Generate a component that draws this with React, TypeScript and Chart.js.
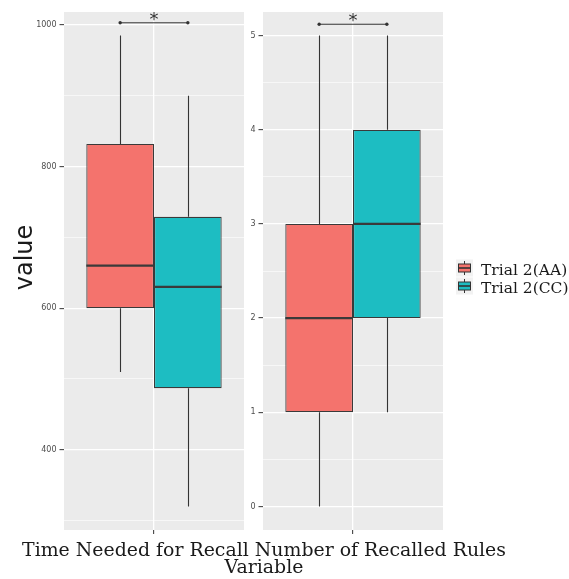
import React, { useEffect, useRef } from 'react';
import { Chart, registerables } from 'chart.js';
Chart.register(...registerables);

// ---------- data ----------
const groupNames = ['Trial 2(AA)', 'Trial 2(CC)'];
const groupFills = ['#F4736D', '#1DBDC2'];
const panelNames = ['Time Needed for Recall', 'Number of Recalled Rules'];
const xTitleSecondLine = 'Variable';
const yTitle = 'value';

// five-number summaries: [lower whisker, Q1, median, Q3, upper whisker]
const timeAA = [510, 600, 660, 832, 985];
const timeCC = [320, 487, 630, 729, 900];
const rulesAA = [0, 1, 2, 3, 5];
const rulesCC = [1, 2, 3, 4, 5];

const timeTicks = [400, 600, 800, 1000];
const rulesTicks = [0, 1, 2, 3, 4, 5];

const timeSignifY = 1003;
const rulesSignifY = 5.12;
const signifLabel = '*';

// ---------- layout ----------
const W = 569;
const H = 579;
const PANEL_TOP = 12;
const PANEL_BOTTOM = 530;
const panelBoxes = [
  { left: 64, right: 244, axisWidth: 64 },
  { left: 263, right: 443, axisWidth: 19 },
];
const BOX_GROUP_FRACTION = 0.752;
const INK = '#333333';
const TEXT = '#1a1a1a';

function buildChart(
  canvas: HTMLCanvasElement,
  idx: number,
  summaries: number[][],
  majors: number[],
  signifY: number,
  extra: (chart: any) => void
) {
  const L = panelBoxes[idx];
  const lo = Math.min(...summaries.map((s) => s[0]));
  const hi = Math.max(...summaries.map((s) => s[4]));
  const pad = (hi - lo) * 0.05;
  const yMin = lo - pad;
  const yMax = hi + pad;
  const step = majors[1] - majors[0];
  const allTicks: number[] = [];
  for (let k = -1; k <= (majors.length - 1) * 2 + 1; k++) {
    const v = Math.round((majors[0] + (k * step) / 2) * 1e6) / 1e6;
    if (v >= yMin && v <= yMax) allTicks.push(v);
  }
  const isMajor = (v: any) => typeof v === 'number' && majors.some((m) => Math.abs(m - v) < 1e-6);

  const plugin = {
    id: 'boxplot' + idx,
    beforeDraw(chart: any) {
      const { ctx, chartArea: ca } = chart;
      ctx.save();
      ctx.fillStyle = '#EBEBEB';
      ctx.fillRect(ca.left, ca.top, ca.right - ca.left, ca.bottom - ca.top);
      ctx.restore();
    },
    beforeDatasetsDraw(chart: any) {
      const { ctx } = chart;
      const ys = chart.scales.y;
      ctx.save();
      ctx.strokeStyle = INK;
      ctx.lineWidth = 1.1;
      summaries.forEach((s, i) => {
        const bar = chart.getDatasetMeta(i).data[0];
        const x = Math.round(bar.x) + 0.5;
        ctx.beginPath();
        ctx.moveTo(x, ys.getPixelForValue(s[0]));
        ctx.lineTo(x, ys.getPixelForValue(s[1]));
        ctx.moveTo(x, ys.getPixelForValue(s[3]));
        ctx.lineTo(x, ys.getPixelForValue(s[4]));
        ctx.stroke();
      });
      ctx.restore();
    },
    afterDatasetsDraw(chart: any) {
      const { ctx } = chart;
      const ys = chart.scales.y;
      ctx.save();
      ctx.strokeStyle = '#3a3a3a';
      ctx.lineWidth = 2.2;
      const centers: number[] = [];
      summaries.forEach((s, i) => {
        const bar = chart.getDatasetMeta(i).data[0];
        centers.push(bar.x);
        const y = ys.getPixelForValue(s[2]);
        ctx.beginPath();
        ctx.moveTo(bar.x - bar.width / 2, y);
        ctx.lineTo(bar.x + bar.width / 2, y);
        ctx.stroke();
      });
      // significance bracket
      const sy = ys.getPixelForValue(signifY);
      ctx.strokeStyle = INK;
      ctx.lineWidth = 1;
      ctx.beginPath();
      ctx.moveTo(centers[0], sy);
      ctx.lineTo(centers[1], sy);
      ctx.stroke();
      ctx.fillStyle = INK;
      centers.forEach((cx) => {
        ctx.beginPath();
        ctx.arc(cx, sy, 1.7, 0, Math.PI * 2);
        ctx.fill();
      });
      ctx.font = '18px "DejaVu Sans"';
      ctx.textAlign = 'center';
      ctx.textBaseline = 'alphabetic';
      ctx.fillText(signifLabel, (centers[0] + centers[1]) / 2, sy + 2);
      ctx.restore();
      extra(chart);
    },
  };

  return new Chart(canvas, {
    type: 'bar',
    data: {
      labels: [''],
      datasets: groupNames.map((g, i) => ({
        label: g,
        data: [[summaries[i][1], summaries[i][3]]] as any,
        backgroundColor: groupFills[i],
        borderColor: '#3a3a3a',
        borderWidth: 1.2,
        borderSkipped: false,
        categoryPercentage: BOX_GROUP_FRACTION,
        barPercentage: 1,
      })),
    },
    options: {
      responsive: false,
      animation: false,
      devicePixelRatio: 1,
      events: [],
      layout: {
        padding: { left: L.left - L.axisWidth, right: W - L.right, top: PANEL_TOP, bottom: 0 },
      },
      plugins: { legend: { display: false }, tooltip: { enabled: false } },
      scales: {
        x: {
          type: 'category',
          offset: true,
          border: { display: false },
          grid: { offset: false, color: '#ffffff', lineWidth: 1.3, tickColor: INK, tickLength: 4, tickWidth: 1 },
          ticks: { display: true, padding: 0, font: { size: 1 } },
          afterFit: (s: any) => {
            s.height = H - PANEL_BOTTOM;
          },
        },
        y: {
          type: 'linear',
          min: yMin,
          max: yMax,
          border: { display: false },
          afterBuildTicks: (s: any) => {
            s.ticks = allTicks.map((v) => ({ value: v }));
          },
          ticks: {
            autoSkip: false,
            padding: 3,
            color: '#4d4d4d',
            font: { family: '"DejaVu Sans"', size: 8 },
            callback: (v: any) => (isMajor(v) ? String(v) : ''),
          },
          grid: {
            color: '#ffffff',
            lineWidth: (ctx: any) => (isMajor(ctx.tick && ctx.tick.value) ? 1.3 : 0.6),
            tickColor: (ctx: any) => (isMajor(ctx.tick && ctx.tick.value) ? INK : 'rgba(0,0,0,0)'),
            tickLength: 4.5,
            tickWidth: 1,
          },
          afterFit: (s: any) => {
            s.width = L.axisWidth;
          },
        },
      },
    },
    plugins: [plugin],
  } as any);
}

function drawTitles(chart: any) {
  const { ctx } = chart;
  ctx.save();
  ctx.fillStyle = TEXT;
  // y title
  ctx.font = '24px "DejaVu Sans"';
  ctx.textAlign = 'center';
  ctx.textBaseline = 'alphabetic';
  ctx.translate(32, 257.5);
  ctx.rotate(-Math.PI / 2);
  ctx.fillText(yTitle, 0, 0);
  ctx.restore();
  ctx.save();
  ctx.fillStyle = TEXT;
  ctx.font = '18.9px "DejaVu Serif"';
  ctx.textAlign = 'center';
  ctx.textBaseline = 'alphabetic';
  ctx.fillText(panelNames.join(' '), 264, 555.7);
  ctx.fillText(xTitleSecondLine, 264, 573);
  ctx.restore();
}

function drawLegend(chart: any) {
  const { ctx } = chart;
  const keyX = 456;
  const keySize = 17;
  const firstCenter = 268;
  const gap = 18;
  ctx.save();
  groupNames.forEach((g, i) => {
    const cy = firstCenter + i * gap;
    ctx.fillStyle = '#F2F2F2';
    ctx.fillRect(keyX, cy - keySize / 2, keySize, keySize);
    const cx = keyX + keySize / 2;
    ctx.strokeStyle = INK;
    ctx.lineWidth = 1;
    ctx.beginPath();
    ctx.moveTo(cx, cy - 7);
    ctx.lineTo(cx, cy + 7);
    ctx.stroke();
    ctx.fillStyle = groupFills[i];
    ctx.fillRect(keyX + 2.5, cy - 4, keySize - 5, 8);
    ctx.strokeRect(keyX + 2.5, cy - 4, keySize - 5, 8);
    ctx.lineWidth = 1.6;
    ctx.beginPath();
    ctx.moveTo(keyX + 2.5, cy);
    ctx.lineTo(keyX + keySize - 2.5, cy);
    ctx.stroke();
    ctx.fillStyle = TEXT;
    ctx.font = '15.5px "DejaVu Serif"';
    ctx.textAlign = 'left';
    ctx.textBaseline = 'alphabetic';
    ctx.fillText(g, 481, cy + 6.5);
  });
  ctx.restore();
}

export default function App() {
  const leftRef = useRef<HTMLCanvasElement>(null);
  const rightRef = useRef<HTMLCanvasElement>(null);

  useEffect(() => {
    const c1 = buildChart(leftRef.current!, 0, [timeAA, timeCC], timeTicks, timeSignifY, drawTitles);
    const c2 = buildChart(rightRef.current!, 1, [rulesAA, rulesCC], rulesTicks, rulesSignifY, drawLegend);
    return () => {
      c1.destroy();
      c2.destroy();
    };
  }, []);

  const canvasStyle: React.CSSProperties = { position: 'absolute', left: 0, top: 0, width: W, height: H };
  return (
    <div style={{ position: 'absolute', left: 0, top: 0, width: W, height: H, background: '#ffffff' }}>
      <canvas ref={leftRef} width={W} height={H} style={canvasStyle} />
      <canvas ref={rightRef} width={W} height={H} style={canvasStyle} />
    </div>
  );
}
